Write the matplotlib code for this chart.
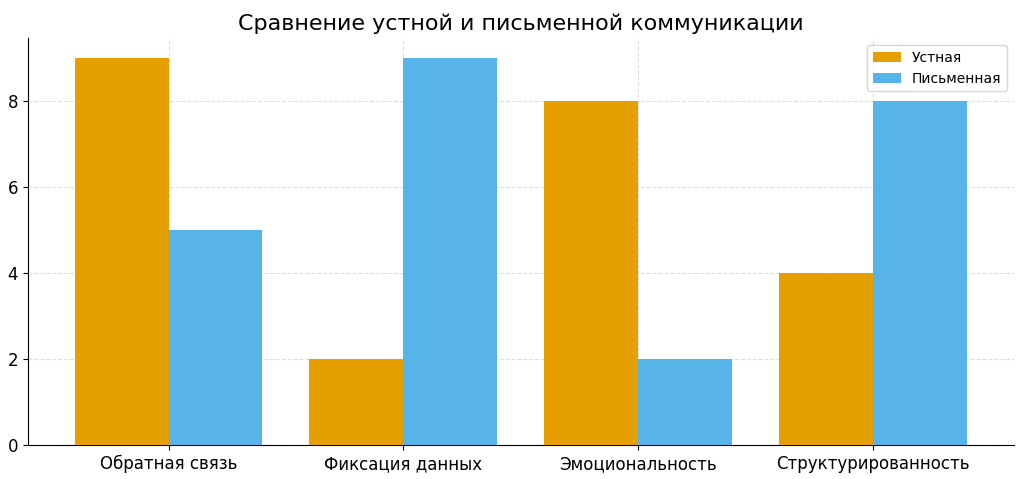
import matplotlib
matplotlib.use("Agg")
import matplotlib.pyplot as plt
import numpy as np

categories = ["Обратная связь", "Фиксация данных", "Эмоциональность", "Структурированность"]
oral = [9, 2, 8, 4]
written = [5, 9, 2, 8]

plt.rcParams['font.family'] = ['DejaVu Sans']
fig, ax = plt.subplots(figsize=(10.24, 4.79), dpi=100)
x = np.arange(len(categories))
w = 0.4
ax.bar(x - w/2, oral, w, color='#E69F00', label='Устная', zorder=3)
ax.bar(x + w/2, written, w, color='#56B4E9', label='Письменная', zorder=3)
ax.set_xticks(x)
ax.set_xticklabels(categories, fontsize=12)
ax.tick_params(axis='y', labelsize=12)
ax.set_title('Сравнение устной и письменной коммуникации', fontsize=16)
ax.grid(True, linestyle='--', alpha=0.4, zorder=0)
ax.spines['top'].set_visible(False)
ax.spines['right'].set_visible(False)
ax.set_xlim(-0.6, 3.6)
ax.legend(loc='upper right', fontsize=10)
fig.subplots_adjust(left=0.027, right=0.99, top=0.92, bottom=0.07)
fig.savefig('out.png')
